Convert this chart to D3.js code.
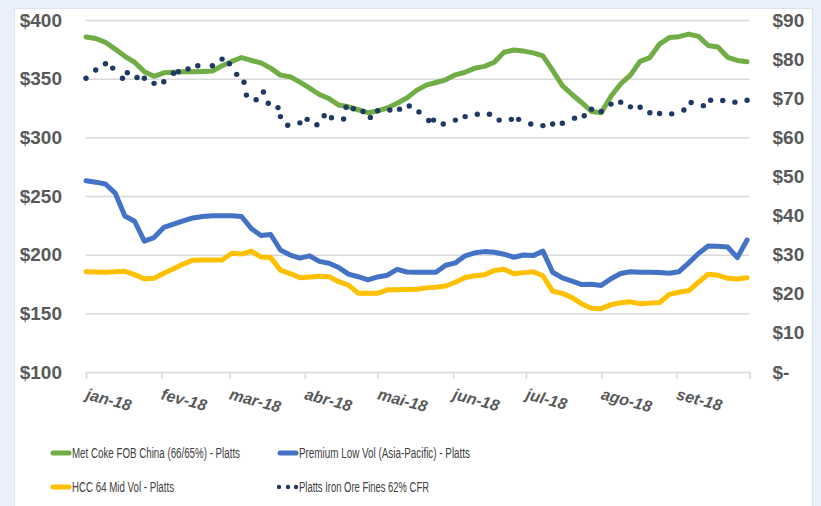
<!DOCTYPE html>
<html lang="pt">
    <head>
        <meta charset="utf-8">
        <title>Met Coke, Coking Coal and Iron Ore Prices 2018</title>
        <script src="https://d3js.org/d3.v7.min.js"></script>
        <style type="text/css">
        body {
            margin: 0;
            background-color: #e9f0f9;
        }
        .axis-label {
            font-family: "Liberation Sans", Arial, sans-serif;
            font-size: 19px;
            font-weight: bold;
            fill: #595959;
        }
        .month-label {
            font-family: "Liberation Sans", Arial, sans-serif;
            font-size: 16px;
            font-weight: bold;
            font-style: italic;
            fill: #595959;
        }
        .legend-label {
            font-family: "Liberation Sans", Arial, sans-serif;
            font-size: 14px;
            fill: #404040;
        }
        </style>
    </head>
    <body>
    <div id="vis"></div>

    <script type="text/javascript">

        const width = 821;
        const height = 506;

        // month ticks (first of each month) and their labels
        const monthStarts = ["2018-01-01", "2018-02-01", "2018-03-01", "2018-04-01", "2018-05-01",
                             "2018-06-01", "2018-07-01", "2018-08-01", "2018-09-01", "2018-10-01"];
        const monthLabels = ["jan-18", "fev-18", "mar-18", "abr-18", "mai-18",
                             "jun-18", "jul-18", "ago-18", "set-18"];

        const leftTicks = [100, 150, 200, 250, 300, 350, 400];
        const rightTicks = [0, 10, 20, 30, 40, 50, 60, 70, 80, 90];

        // sample dates for the three coal series
        const dates = [
            "2018-01-01", "2018-01-05", "2018-01-09", "2018-01-13", "2018-01-17", "2018-01-21", "2018-01-25", "2018-01-29",
            "2018-02-02", "2018-02-06", "2018-02-10", "2018-02-14", "2018-02-18", "2018-02-22", "2018-02-26",
            "2018-03-02", "2018-03-06", "2018-03-10", "2018-03-14", "2018-03-18", "2018-03-22", "2018-03-26", "2018-03-30",
            "2018-04-03", "2018-04-07", "2018-04-11", "2018-04-15", "2018-04-19", "2018-04-23", "2018-04-27",
            "2018-05-01", "2018-05-05", "2018-05-09", "2018-05-13", "2018-05-17", "2018-05-21", "2018-05-25", "2018-05-29",
            "2018-06-02", "2018-06-06", "2018-06-10", "2018-06-14", "2018-06-18", "2018-06-22", "2018-06-26", "2018-06-30",
            "2018-07-04", "2018-07-08", "2018-07-12", "2018-07-16", "2018-07-20", "2018-07-24", "2018-07-28",
            "2018-08-01", "2018-08-05", "2018-08-09", "2018-08-13", "2018-08-17", "2018-08-21", "2018-08-25", "2018-08-29",
            "2018-09-02", "2018-09-06", "2018-09-10", "2018-09-14", "2018-09-18", "2018-09-22", "2018-09-26", "2018-09-30"];

        const metCoke = [
            385.5, 384.2, 381, 375.2, 369, 364, 356, 352,
            355, 355.5, 355.8, 356, 356.2, 356.5, 361,
            364.7, 368, 365.5, 363.5, 359, 353, 351.7, 347,
            342, 336.5, 333, 327.5, 326, 323.5, 321,
            322.5, 325, 329, 333.5, 340, 344.5, 346.7, 349,
            353.3, 355.5, 359, 360.5, 364, 372.5, 374.4, 373.5,
            372, 369.5, 357, 344, 336.5, 329.5, 322,
            321, 335, 345.5, 353, 364.8, 368, 379.5, 385,
            385.8, 388, 386, 378.3, 377, 368.2, 365.5, 364.5];

        const premiumLowVol = [
            263, 261.8, 260.2, 252.5, 233, 228.5, 211.5, 214.6,
            223.2, 226, 228.7, 231.3, 232.6, 233.2, 233.2,
            233.1, 232.5, 222.3, 216.4, 217.2, 204, 199.7, 197,
            199, 194.3, 192.7, 189, 183.4, 181.2, 178.5,
            181, 182.5, 187.5, 185.2, 185, 185, 185, 191,
            193, 199, 201.6, 202.6, 202.1, 200.4, 197.8, 199.7,
            199.2, 203, 185, 180.2, 177.4, 174.5, 174.8,
            173.8, 179.5, 184, 185.5, 185.1, 185, 184.8, 184.1,
            185.5, 193, 201, 207.3, 207.1, 206.5, 197.5, 212.5];

        const hccMidVol = [
            185.5, 185.2, 185, 185.5, 185.8, 183, 179.4, 179.8,
            184.2, 188, 192, 195.3, 195.5, 195.5, 195.5,
            201.2, 200.5, 203.1, 198, 197.5, 186.8, 183.8, 180.4,
            181, 181.6, 181.1, 177, 174, 167.2, 167.1,
            167.1, 170, 170.2, 170.3, 170.5, 171.7, 172.3, 173.3,
            176.5, 180.5, 182, 182.8, 186.5, 187.5, 183.8, 184.7,
            185.5, 182, 168.8, 167, 163.4, 158, 154.4,
            154, 157.4, 159, 159.8, 158.1, 158.7, 159.2, 166.2,
            168, 169.2, 176.5, 183.3, 182.5, 179.8, 179.3, 180.3];

        // iron ore (right axis), one entry per dot
        const ironDates = [
            "2018-01-01", "2018-01-05", "2018-01-09", "2018-01-12", "2018-01-16", "2018-01-18", "2018-01-22", "2018-01-25",
            "2018-01-29", "2018-02-02", "2018-02-06", "2018-02-08", "2018-02-12", "2018-02-16", "2018-02-22", "2018-02-26",
            "2018-03-01", "2018-03-04", "2018-03-07", "2018-03-08", "2018-03-12", "2018-03-15", "2018-03-17", "2018-03-21",
            "2018-03-22", "2018-03-25", "2018-03-30", "2018-04-02", "2018-04-06", "2018-04-09", "2018-04-12", "2018-04-17",
            "2018-04-18", "2018-04-21", "2018-04-25", "2018-04-28", "2018-05-01", "2018-05-06", "2018-05-10", "2018-05-14",
            "2018-05-18", "2018-05-22", "2018-05-24", "2018-05-28", "2018-06-02", "2018-06-06", "2018-06-11", "2018-06-16",
            "2018-06-20", "2018-06-25", "2018-06-28", "2018-07-03", "2018-07-08", "2018-07-12", "2018-07-16", "2018-07-21",
            "2018-07-25", "2018-07-28", "2018-08-01", "2018-08-05", "2018-08-09", "2018-08-13", "2018-08-17", "2018-08-21",
            "2018-08-25", "2018-08-30", "2018-09-04", "2018-09-07", "2018-09-12", "2018-09-15", "2018-09-20", "2018-09-25",
            "2018-09-30"];
        const ironOre = [
            75.1, 77.2, 78.8, 77.7, 75.1, 76.5, 75.3, 75.1,
            73.8, 74.2, 76.4, 76.8, 77.5, 78.3, 78.3, 80.0,
            78.8, 76.1, 74.1, 70.8, 69.6, 71.6, 68.7, 67.6,
            65.3, 63.1, 63.7, 64.6, 63.2, 65.5, 65.0, 64.7,
            67.7, 67.3, 66.6, 65.1, 66.8, 67.0, 67.2, 68.0,
            66.5, 64.3, 64.4, 63.4, 64.4, 65.3, 65.9, 65.9,
            64.4, 64.6, 64.6, 63.4, 63.0, 63.4, 63.6, 64.9,
            65.5, 67.2, 66.6, 68.5, 69.0, 67.8, 67.7, 66.3,
            66.1, 66.0, 67.0, 68.9, 68.1, 69.5, 69.4, 69.0,
            69.5];

        const seriesNames = ["Met Coke FOB China (66/65%) - Platts",
                             "Premium Low Vol (Asia-Pacific) - Platts",
                             "HCC 64 Mid Vol - Platts",
                             "Platts Iron Ore Fines 62% CFR"];
        const colors = ["#70ad47", "#4472c4", "#ffc000", "#1f3864"];
        // legend text widths (the original uses a narrow font)
        const legendWidths = [168, 171, 102, 130];

        const parse = d3.utcParse("%Y-%m-%d");

        const plotLeft = 86, plotRight = 749.5, plotTop = 20, plotBottom = 372;

        const xScale = d3.scaleUtc()
                         .domain([parse(monthStarts[0]), parse(monthStarts[monthStarts.length - 1])])
                         .range([plotLeft, plotRight]);

        const yLeft = d3.scaleLinear()
                        .domain([100, 400])
                        .range([plotBottom, plotTop]);

        const yRight = d3.scaleLinear()
                         .domain([0, 90])
                         .range([plotBottom, plotTop]);

        const svg = d3.select("#vis")
                      .append("svg")
                      .attr("width", width)
                      .attr("height", height);

        // white chart panel
        svg.append("rect")
           .attr("x", 14.5)
           .attr("y", 8.5)
           .attr("width", 798)
           .attr("height", 510)
           .attr("fill", "white")
           .attr("stroke", "#dbe3ee");

        // gridlines
        svg.append("g")
           .attr("transform", "translate(" + plotLeft + ",0)")
           .call(d3.axisLeft(yLeft).tickValues(leftTicks.slice(1)).tickSize(-(plotRight - plotLeft)).tickFormat(""))
           .call(g => g.select(".domain").remove())
           .call(g => g.selectAll("line").attr("stroke", "#d9d9d9").attr("stroke-width", 1.5));

        // x axis
        svg.append("g")
           .attr("transform", "translate(0," + plotBottom + ")")
           .call(d3.axisBottom(xScale).tickValues(monthStarts.map(parse)).tickSize(7).tickFormat(""))
           .call(g => g.select(".domain").attr("stroke", "#d9d9d9").attr("stroke-width", 1.5))
           .call(g => g.selectAll("line").attr("stroke", "#d9d9d9").attr("stroke-width", 1.5));

        svg.append("g")
           .selectAll("text")
           .data(monthLabels)
           .enter()
           .append("text")
           .attr("class", "month-label")
           .attr("transform", (d, i) => "translate(" + (xScale(parse(monthStarts[i])) - 1) + ",399) rotate(15)")
           .text(d => d);

        // left axis
        svg.append("g")
           .attr("transform", "translate(" + plotLeft + ",0)")
           .call(d3.axisLeft(yLeft).tickValues(leftTicks).tickSize(0).tickPadding(24).tickFormat(d => "$" + d))
           .call(g => g.select(".domain").remove())
           .call(g => g.selectAll("text").attr("class", "axis-label").attr("fill", null));

        // right axis
        svg.append("g")
           .attr("transform", "translate(" + plotRight + ",0)")
           .call(d3.axisRight(yRight).tickValues(rightTicks).tickSize(0).tickPadding(23)
                   .tickFormat(d => d === 0 ? "$-" : "$" + d))
           .call(g => g.select(".domain").remove())
           .call(g => g.selectAll("text").attr("class", "axis-label").attr("fill", null));

        // coal lines
        const line = d3.line()
                       .x((d, i) => xScale(parse(dates[i])))
                       .y(d => yLeft(d));

        [metCoke, premiumLowVol, hccMidVol].forEach((values, i) => {
            svg.append("path")
               .datum(values)
               .attr("d", line)
               .attr("fill", "none")
               .attr("stroke", colors[i])
               .attr("stroke-width", 5)
               .attr("stroke-linejoin", "round")
               .attr("stroke-linecap", "round");
        });

        // iron ore dots
        svg.append("g")
           .selectAll("circle")
           .data(ironOre)
           .enter()
           .append("circle")
           .attr("cx", (d, i) => xScale(parse(ironDates[i])))
           .attr("cy", d => yRight(d))
           .attr("r", 2.7)
           .attr("fill", colors[3]);

        // legend
        const legendX = [51, 278];
        const legendY = [453, 487];
        const legend = svg.append("g");

        seriesNames.forEach((name, i) => {
            const lx = legendX[i % 2];
            const ly = legendY[Math.floor(i / 2)];
            if (i < 3) {
                legend.append("line")
                      .attr("x1", lx + 2).attr("x2", lx + 18)
                      .attr("y1", ly).attr("y2", ly)
                      .attr("stroke", colors[i])
                      .attr("stroke-width", 5)
                      .attr("stroke-linecap", "round");
            } else {
                [1, 10, 18].forEach(o => {
                    legend.append("circle")
                          .attr("cx", lx + o).attr("cy", ly)
                          .attr("r", 2.2)
                          .attr("fill", colors[i]);
                });
            }
            legend.append("text")
                  .attr("class", "legend-label")
                  .attr("x", lx + 21)
                  .attr("y", ly + 5)
                  .attr("textLength", legendWidths[i])
                  .attr("lengthAdjust", "spacingAndGlyphs")
                  .text(name);
        });

    </script>
    </body>
</html>
